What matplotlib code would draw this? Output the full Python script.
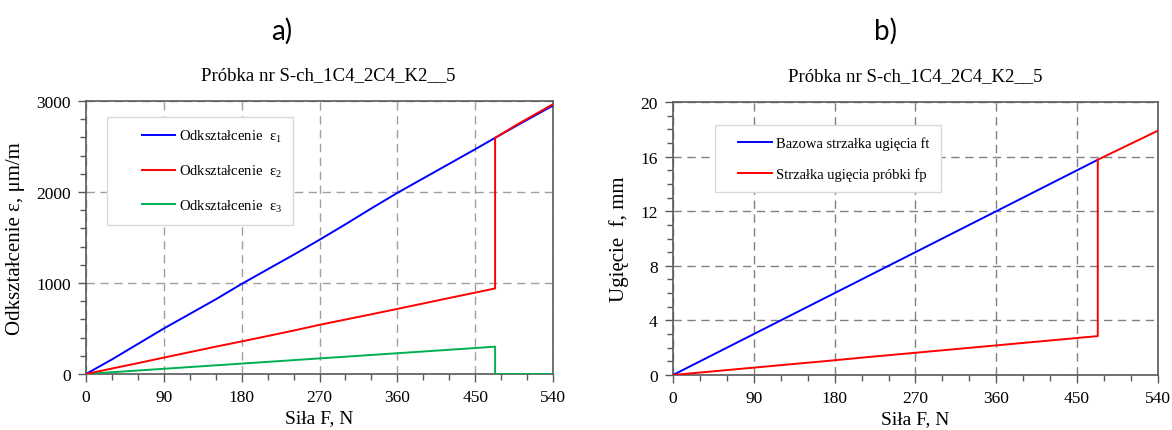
import matplotlib
matplotlib.use("Agg")
import numpy as np
import matplotlib.pyplot as plt
from matplotlib.ticker import MultipleLocator
from matplotlib.legend_handler import HandlerLine2D

plt.rcParams['font.family'] = ['Liberation Serif', 'DejaVu Serif']
plt.rcParams['mathtext.fontset'] = 'custom'
plt.rcParams['mathtext.rm'] = 'Liberation Serif'
plt.rcParams['mathtext.it'] = 'Liberation Serif:italic'

# --- data -------------------------------------------------------------
sample_title = "Próbka nr S-ch_1C4_2C4_K2__5"

# force values (N) at which readings are taken; 473 N is the moment of the jump
force = [0, 30, 60, 90, 120, 150, 180, 210, 240, 270, 300, 330, 360,
         390, 420, 450, 473]
force_after = [473, 500, 540]

# strains, µm/m
eps1 = [0, 160, 330, 500, 660, 820, 990, 1150, 1310, 1475, 1645, 1820,
        1990, 2150, 2310, 2470, 2595]
eps1_after = [2595, 2740, 2950]
eps2 = [0, 60, 119, 180, 240, 300, 358, 417, 477, 540, 598, 656, 715,
        775, 835, 894, 940]
eps2_after = [2595, 2750, 2965]
eps3 = [0, 19, 38, 57, 76, 95, 114, 133, 152, 171, 190, 209, 228, 247,
        266, 285, 300]
eps3_after = [0, 0, 0]

# deflections, mm
ft = [0, 1.0, 2.0, 3.0, 4.0, 5.0, 6.0, 7.0, 8.0, 9.0, 10.0, 11.0, 12.0,
      13.0, 14.0, 15.0, 15.77]
fp = [0, 0.18, 0.36, 0.54, 0.72, 0.90, 1.08, 1.27, 1.45, 1.63, 1.81,
      1.99, 2.17, 2.35, 2.53, 2.71, 2.85]
fp_after = [15.77, 16.63, 17.9]

x_ticks = [0, 90, 180, 270, 360, 450, 540]

BLUE = '#0000ff'
RED = '#ff0000'
GREEN = '#00b050'
SPINE = '#595959'


class IndentedLine(HandlerLine2D):
    """Legend line drawn only in the right part of the handle box."""

    def __init__(self, skip, **kw):
        super().__init__(**kw)
        self.skip = skip

    def create_artists(self, legend, orig_handle, xdescent, ydescent,
                       width, height, fontsize, trans):
        artists = super().create_artists(legend, orig_handle, xdescent,
                                         ydescent, width, height, fontsize,
                                         trans)
        line = artists[0]
        xd = np.asarray(line.get_xdata(), dtype=float)
        x0, x1 = xd.min(), xd.max()
        line.set_xdata(np.linspace(x0 + self.skip * (x1 - x0), x1, len(xd)))
        return artists


fig = plt.figure(figsize=(11.72, 4.31), dpi=100)
ax1 = fig.add_axes([0.0734, 0.130, 0.3985, 0.6334])
ax2 = fig.add_axes([0.5742, 0.1276, 0.4138, 0.6334])

lw = 1.4

# --- panel a: strains -------------------------------------------------
ax1.plot(force + force_after[1:], eps1 + eps1_after[1:], color=BLUE, lw=lw,
         label=r'Odkształcenie  $\mathrm{ε}_1$', zorder=3)
ax1.plot(force + force_after, eps2 + eps2_after, color=RED, lw=lw,
         label=r'Odkształcenie  $\mathrm{ε}_2$', zorder=4)
ax1.plot(force + force_after, eps3 + eps3_after, color=GREEN, lw=lw,
         label=r'Odkształcenie  $\mathrm{ε}_3$', zorder=3)
ax1.set_ylim(0, 3000)
ax1.yaxis.set_major_locator(MultipleLocator(1000))
ax1.yaxis.set_minor_locator(MultipleLocator(200))
ax1.set_ylabel('Odkształcenie ε, μm/m', fontsize=15, labelpad=8)

# --- panel b: deflections ---------------------------------------------
ax2.plot(force, ft, color=BLUE, lw=lw, label='Bazowa strzałka ugięcia ft',
         zorder=3)
ax2.plot(force + force_after, fp + fp_after, color=RED, lw=lw,
         label='Strzałka ugięcia próbki fp', zorder=4)
ax2.set_ylim(0, 20)
ax2.yaxis.set_major_locator(MultipleLocator(4))
ax2.yaxis.set_minor_locator(MultipleLocator(1))
ax2.set_ylabel('Ugięcie  f, mm', fontsize=15, labelpad=8)

for ax, gcol in ((ax1, '#a0a0a0'), (ax2, '#808080')):
    ax.set_xlim(0, 540)
    ax.set_xticks(x_ticks)
    ax.xaxis.set_minor_locator(MultipleLocator(30))
    ax.set_xlabel('Siła F, N', fontsize=14, labelpad=3)
    ax.set_title(sample_title, fontsize=13.5, pad=16)
    ax.grid(True, which='major', color=gcol, linestyle=(0, (6, 4)), lw=1.0)
    ax.tick_params(which='major', direction='out', length=6, width=1,
                   color=SPINE, labelsize=12.5, pad=5)
    ax.tick_params(which='minor', direction='out', length=4, width=1,
                   color=SPINE)
    for s in ax.spines.values():
        s.set_color(SPINE)
        s.set_linewidth(1.2)

ax1.title.set_x(0.518)

fs_leg = 10.5
leg1 = ax1.legend(loc='upper left', bbox_to_anchor=(0.045, 0.941),
                  borderaxespad=0, fontsize=fs_leg, handlelength=3.94,
                  handletextpad=0.27, labelspacing=1.28, borderpad=0.75,
                  fancybox=False, edgecolor='#d9d9d9', framealpha=1,
                  handler_map={plt.Line2D: IndentedLine(0.41)})
leg1.get_frame().set_linewidth(1.0)
leg2 = ax2.legend(loc='upper left', bbox_to_anchor=(0.0866, 0.916),
                  borderaxespad=0, fontsize=fs_leg, handlelength=3.18,
                  handletextpad=0.27, labelspacing=1.2, borderpad=0.75,
                  fancybox=False, edgecolor='#d9d9d9', framealpha=1,
                  handler_map={plt.Line2D: IndentedLine(0.27)})
leg2.get_frame().set_linewidth(1.0)

fig.text(282 / 1172, 1 - 31 / 431, 'a)', fontsize=20, family='Lato',
         ha='center', va='center')
fig.text(885 / 1172, 1 - 31 / 431, 'b)', fontsize=20, family='Lato',
         ha='center', va='center')

fig.savefig('out.png', dpi=100)
